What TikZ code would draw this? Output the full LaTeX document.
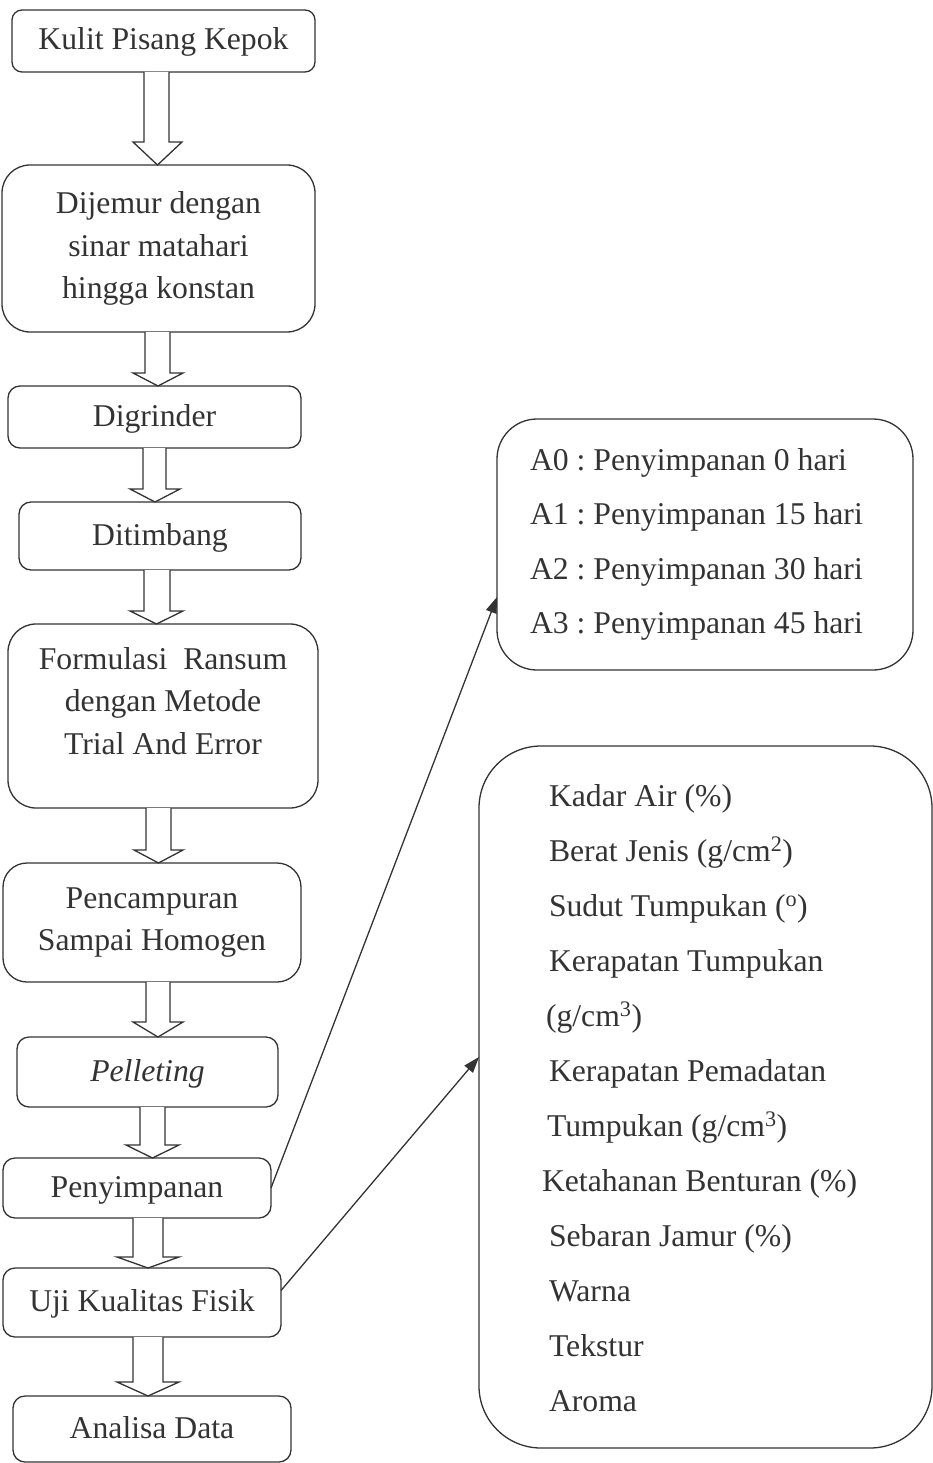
\documentclass[tikz,border=0pt]{standalone}
\usepackage{fontspec}
\setmainfont{Liberation Serif}
\usetikzlibrary{calc,arrows.meta}
\definecolor{ink}{HTML}{333333}
\frenchspacing
\tikzset{
  box/.style={draw=ink, line width=1.3pt, inner sep=0pt, outer sep=0pt, text=ink,
    font=\fontsize{31.7}{42.5}\selectfont, align=center},
  oneline/.style={text height=20pt, text depth=2pt},
  listtext/.style={inner sep=0pt, outer sep=0pt, text=ink, anchor=west},
  blk/.style={draw=ink, line width=1.3pt, fill=white, line join=miter},
  conn/.style={draw=ink, line width=1.3pt, -{Triangle[length=16pt,width=11pt]}}
}
% from, to, shaft cx, shaft half width, head cx, head half width, head length
\newcommand\blkarrow[7]{%
  \draw[blk] let \p1=(#1.south), \p2=(#2.north) in
    (#3pt-#4pt,\y1) -- (#3pt-#4pt,\y2+#7pt) -- (#5pt-#6pt,\y2+#7pt) -- (#5pt,\y2)
    -- (#5pt+#6pt,\y2+#7pt) -- (#3pt+#4pt,\y2+#7pt) -- (#3pt+#4pt,\y1);}
\begin{document}
\begin{tikzpicture}[x=1pt,y=-1pt]
\useasboundingbox (0,0) rectangle (933,1463);

\node[box,oneline,rounded corners=10pt,minimum width=303pt,minimum height=62pt] (b1) at (163.5,41) {Kulit Pisang Kepok};
\node[box,rounded corners=28pt,minimum width=313pt,minimum height=167pt] (b2) at (158.5,248.5) {Dijemur dengan\\sinar matahari\\hingga konstan};
\node[box,oneline,rounded corners=12pt,minimum width=293pt,minimum height=62pt] (b3) at (154.5,417) {Digrinder};
\node[box,oneline,rounded corners=12pt,minimum width=282pt,minimum height=68pt] (b4) at (160,536) {Ditimbang};
\node[box,text depth=31pt,rounded corners=28pt,minimum width=310pt,minimum height=184pt] (b5) at (163,716) {Formulasi~~Ransum\\dengan Metode\\Trial And Error};
\node[box,rounded corners=24pt,minimum width=298pt,minimum height=119pt] (b6) at (152,922.5) {Pencampuran\\Sampai Homogen};
\node[box,oneline,rounded corners=12pt,minimum width=261pt,minimum height=70pt] (b7) at (147.5,1072) {\textit{Pelleting}};
\node[box,oneline,rounded corners=12pt,minimum width=268pt,minimum height=60pt] (b8) at (137,1188) {Penyimpanan};
\node[box,oneline,rounded corners=12pt,minimum width=278pt,minimum height=69pt] (b9) at (142,1302.5) {Uji Kualitas Fisik};
\node[box,oneline,rounded corners=12pt,minimum width=278pt,minimum height=66pt] (b10) at (152,1429) {Analisa Data};

\node[box,rounded corners=40pt,minimum width=416pt,minimum height=251pt] (rb1) at (705,544.5) {};
\node[box,rounded corners=62pt,minimum width=453pt,minimum height=702pt] (rb2) at (705.5,1097) {};

\node[listtext,font=\fontsize{31.7}{54.5}\selectfont] (t1) at (530,541) {%
\begin{tabular}{@{}l@{}}
A0 : Penyimpanan 0 hari\\
A1 : Penyimpanan 15 hari\\
A2 : Penyimpanan 30 hari\\
A3 : Penyimpanan 45 hari
\end{tabular}};

\node[listtext,font=\fontsize{31.7}{55}\selectfont] (t2) at (549,1097.5) {%
\begin{tabular}{@{}l@{}}
Kadar Air (\%)\\
Berat Jenis (g/cm\textsuperscript{2})\\
Sudut Tumpukan (\textsuperscript{o})\\
Kerapatan Tumpukan\\
\hspace*{-3pt}(g/cm\textsuperscript{3})\\
Kerapatan Pemadatan\\
\hspace*{-2pt}Tumpukan (g/cm\textsuperscript{3})\\
\hspace*{-7pt}Ketahanan Benturan (\%)\\
Sebaran Jamur (\%)\\
Warna\\
Tekstur\\
Aroma
\end{tabular}};

\blkarrow{b1}{b2}{156.5}{12.5}{157.5}{24.5}{23}
\blkarrow{b2}{b3}{157.5}{12.5}{158}{25}{13}
\blkarrow{b3}{b4}{154.5}{11.5}{155}{25}{13}
\blkarrow{b4}{b5}{157}{13}{156.5}{26.5}{13}
\blkarrow{b5}{b6}{158.5}{12.5}{158.5}{24.5}{13}
\blkarrow{b6}{b7}{158}{12}{158}{25}{15}
\blkarrow{b7}{b8}{152.5}{12.5}{152.5}{26.5}{13}
\blkarrow{b8}{b9}{148}{15}{148}{31}{11}
\blkarrow{b9}{b10}{148}{15}{148}{31}{14}

\draw[conn] (b8.east) -- ([yshift=-52.5pt]rb1.west);
\draw[conn] ([yshift=12pt]b9.east) -- ([yshift=40pt]rb2.west);
\end{tikzpicture}
\end{document}
